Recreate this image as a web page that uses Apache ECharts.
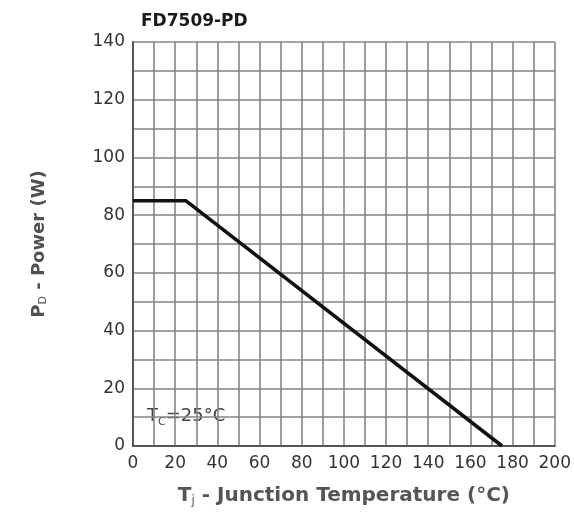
<!DOCTYPE html>
<html><head><meta charset="utf-8">
<script src="https://cdn.jsdelivr.net/npm/echarts@6/dist/echarts.min.js"></script>
<style>html,body{margin:0;padding:0;background:#fff}#c{width:574px;height:516px}</style>
</head><body><div id="c"></div>
<script>
const title = 'FD7509-PD';
const tempC = [0, 25, 175];
const powerW = [85, 85, 0];
const xTickLabels = [0, 20, 40, 60, 80, 100, 120, 140, 160, 180, 200];
const yTickLabels = [0, 20, 40, 60, 80, 100, 120, 140];

const chart = echarts.init(document.getElementById('c'));
const font = 'DejaVu Sans, Verdana, sans-serif';
chart.setOption({
  animation: false,
  title: { text: title, left: 136, top: 8, textStyle: { fontFamily: font, fontSize: 17, fontWeight: 'bold', color: '#1a1a1a' } },
  grid: { left: 133, right: 18, top: 42, bottom: 70 },
  xAxis: {
    type: 'value', min: 0, max: 200, interval: 10,
    axisLine: { show: true, lineStyle: { color: '#555', width: 2 } },
    axisTick: { show: false },
    splitLine: { show: true, lineStyle: { color: '#858585', width: 1.6 } },
    axisLabel: { margin: 9, fontFamily: font, fontSize: 17, color: '#333',
      formatter: v => xTickLabels.includes(v) ? String(v) : '' },
    name: '{n|T}{s|j}{n| - Junction Temperature (°C)}',
    nameLocation: 'middle', nameGap: 39,
    nameTextStyle: { rich: {
      n: { fontFamily: font, fontSize: 20, color: '#555', fontWeight: 'bold' },
      s: { fontFamily: font, fontSize: 12, color: '#555', verticalAlign: 'bottom', padding: [10, 0, 0, 0] } } }
  },
  yAxis: {
    type: 'value', min: 0, max: 140, interval: 10,
    axisLine: { show: true, lineStyle: { color: '#555', width: 2 } },
    axisTick: { show: false },
    splitLine: { show: true, lineStyle: { color: '#858585', width: 1.6 } },
    axisLabel: { margin: 8, fontFamily: font, fontSize: 17, color: '#333',
      formatter: v => yTickLabels.includes(v) ? String(v) : '' },
    name: '{n|P}{s|D}{n| - Power (W)}',
    nameLocation: 'middle', nameGap: 84, nameRotate: 90,
    nameTextStyle: { rich: {
      n: { fontFamily: font, fontSize: 18, color: '#505050', fontWeight: 'bold' },
      s: { fontFamily: font, fontSize: 11, color: '#505050', verticalAlign: 'bottom', padding: [9, 0, 0, 0] } } }
  },
  series: [{
    type: 'line', symbol: 'none',
    data: tempC.map((t, i) => [t, powerW[i]]),
    lineStyle: { color: '#111', width: 3.5 }
  }],
  graphic: [{
    type: 'text', left: 147, top: 407,
    style: { text: '{n|T}{s|C}{n|=25°C}', rich: {
      n: { fontFamily: font, fontSize: 18, fill: '#444' },
      s: { fontFamily: font, fontSize: 11, fill: '#444', padding: [12, 0, 0, 0] } } }
  }]
});
</script></body></html>
